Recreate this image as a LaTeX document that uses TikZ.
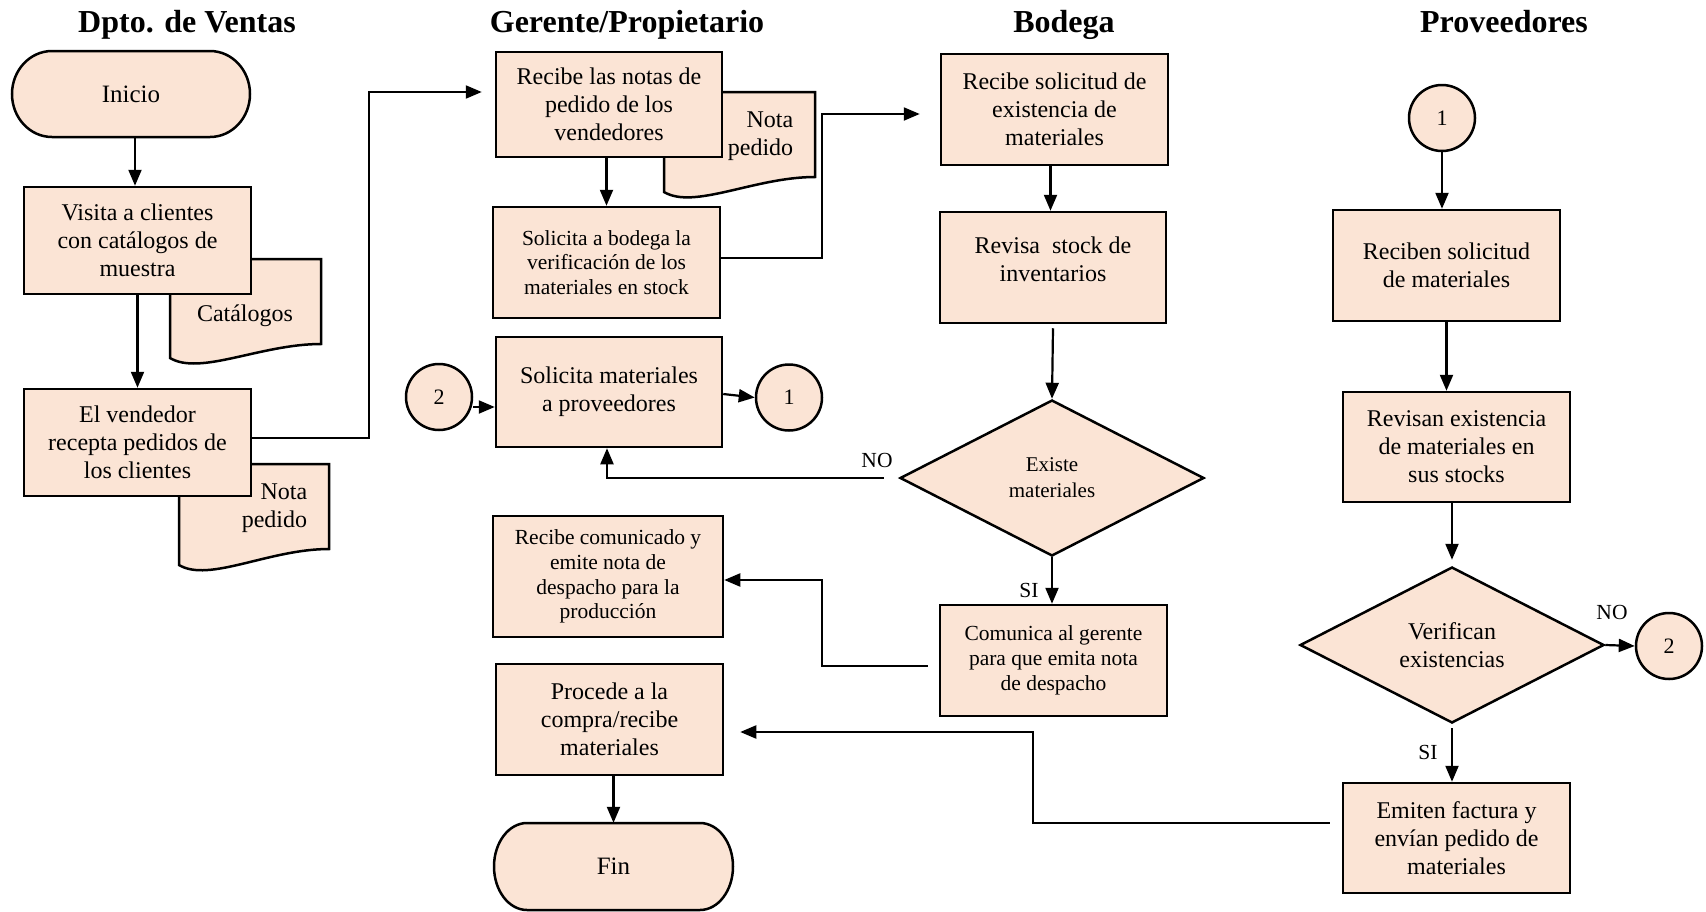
\documentclass[tikz,border=0pt]{standalone}
\usepackage{fontspec}
\setmainfont{Liberation Serif}
\usetikzlibrary{shapes.geometric,arrows.meta,calc}
\definecolor{peach}{HTML}{FBE4D5}

% document symbol: left x, right x, top y, bottom-left y, bottom-right y
\newcommand\docoutline[5]{%
  \draw[outline,fill=peach] (#1,#3) -- (#2,#3) -- (#2,#5)
    .. controls ({#1+0.6*(#2-#1)},#5) and ({#1+0.2*(#2-#1)},{#4+18}) .. (#1,#4) -- cycle;}

\begin{document}
\begin{tikzpicture}[x=1pt,y=-1pt,
  every node/.style={inner sep=0pt},
  outline/.style={draw=black,line width=2.5pt,line join=miter},
  box/.style={rectangle,outline,fill=peach,align=center,
    font=\fontsize{24}{28}\selectfont,minimum width=227pt,minimum height=111pt},
  sbox/.style={box,font=\fontsize{21.5}{24.8}\selectfont},
  decision/.style={diamond,outline,fill=peach,align=center,
    minimum width=304pt,minimum height=156pt},
  connector/.style={circle,outline,fill=peach,minimum size=66pt,
    font=\fontsize{22}{26}\selectfont},
  lane/.style={anchor=base,font=\fontsize{32}{36}\selectfont\bfseries},
  plain/.style={font=\fontsize{24}{28}\selectfont,align=center},
  tag/.style={font=\fontsize{21.5}{25}\selectfont},
  arr/.style={-{Triangle[length=16pt,width=13pt]},line width=2.2pt},
]
\useasboundingbox (0,0) rectangle (1706,911);

% lane headings
\node[lane] (hVentas) at (187,32.5) {Dpto. de Ventas};
\node[lane] (hGerente) at (627,32.5) {Gerente/Propietario};
\node[lane] (hBodega) at (1064,32.5) {Bodega};
\node[lane] (hProv) at (1504,32.5) {Proveedores};

% terminals
\draw[outline,fill=peach] (52,51) -- (210,51) arc[start angle=-90,end angle=90,x radius=40,y radius=43]
  -- (52,137) arc[start angle=90,end angle=270,x radius=40,y radius=43] -- cycle;
\node[plain,font=\fontsize{25}{28}\selectfont,minimum width=238pt,minimum height=86pt] (inicio) at (131,94) {Inicio};
\draw[outline,fill=peach] (527,823) -- (700,823) arc[start angle=-90,end angle=90,x radius=33,y radius=43.5]
  -- (527,910) arc[start angle=90,end angle=270,x radius=33,y radius=43.5] -- cycle;
\node[plain,font=\fontsize{25}{28}\selectfont,minimum width=239pt,minimum height=87pt] (fin) at (613.5,866.5) {Fin};

% documents (drawn below the process boxes)
\docoutline{170}{321}{259}{358}{344}
\node[plain] (catalogos) at (245,316) {Catálogos};
\docoutline{179}{329}{464}{565}{549}
\node[plain,align=right] (nota1) at (274.5,508.5) {Nota\\pedido};
\docoutline{664}{815}{92}{192}{177}
\node[plain,align=right] (nota2) at (760.5,136) {Nota\\pedido};

% Dpto. de Ventas
\node[box,minimum height=107pt] (visita) at (137.5,240.5) {Visita a clientes\\con catálogos de\\muestra};
\node[box,minimum height=107pt] (vendedor) at (137.5,442.5) {El vendedor\\recepta pedidos de\\los clientes};

% Gerente/Propietario
\node[box,minimum width=226pt,minimum height=105pt] (recibeNotas) at (609,104.5) {Recibe las notas de\\pedido de los\\vendedores};
\node[sbox] (solicitaBodega) at (606.5,262.5) {Solicita a bodega la\\verificación de los\\materiales en stock};
\node[box,minimum width=226pt,minimum height=110pt] (solicitaMat) at (609,392) {Solicita materiales\\a proveedores};
\node[connector] (c2L) at (439,397) {2};
\node[connector] (c1L) at (789,397.5) {1};
\node[sbox,minimum width=230pt,minimum height=121pt] (recibeCom) at (608,576.5) {Recibe comunicado y\\emite nota de\\despacho para la\\producción};
\node[box] (procede) at (609.5,719.5) {Procede a la\\compra/recibe\\materiales};

% Bodega
\node[box] (bod1) at (1054.5,109.5) {Recibe solicitud de\\existencia de\\materiales};
\node[box,minimum width=226pt] (bod2) at (1053,267.5) {};
\node[plain] (bod2text) at (1053,259) {Revisa\ \ stock de\\inventarios};
\node[decision,font=\fontsize{21}{26}\selectfont] (existe) at (1052,478) {Existe\\materiales};
\node[sbox] (comunica) at (1053.5,660.5) {Comunica al gerente\\para que emita nota\\de despacho};

% Proveedores
\node[connector] (c1R) at (1442,118) {1};
\node[box] (reciben) at (1446.5,265.5) {Reciben solicitud\\de materiales};
\node[box,minimum height=110pt] (revisan) at (1456.5,447) {Revisan existencia\\de materiales en\\sus stocks};
\node[decision,font=\fontsize{24}{28}\selectfont] (verifican) at (1452,645) {Verifican\\existencias};
\node[connector] (c2R) at (1669,646) {2};
\node[box,minimum height=110pt] (emiten) at (1456.5,838) {Emiten factura y\\envían pedido de\\materiales};

% decision labels
\node[tag] (noExiste) at (877,460) {NO};
\node[tag] (siExiste) at (1029,590) {SI};
\node[tag] (noVerif) at (1612,612) {NO};
\node[tag] (siVerif) at (1428,752) {SI};

% flow
\draw[arr] ([xshift=4pt]inicio.south) -- ([xshift=4pt]inicio.south |- visita.north);
\draw[arr] (visita.south) -- (vendedor.north);
\draw[arr] ($(vendedor.east)+(0,-4.5)$) -- ++(117,0) |- ($(recibeNotas.west)+(-13,-12.5)$);
\draw[arr] (solicitaBodega.north |- recibeNotas.south) -- (solicitaBodega.north);
\draw[arr] ($(solicitaBodega.east)+(0,-4.5)$) -- ++(101,0) |- ($(bod1.west)+(-20,4.5)$);
\draw[arr] ([xshift=-4pt]bod1.south) -- ([xshift=-4pt]bod1.south |- bod2.north);
\draw[arr] ($(bod2.south)+(0,4)$) -- (existe.north);
\draw[arr] ($(existe.west)+(-15,0)$) -| ([xshift=-2pt]solicitaMat.south);
\draw[arr] (existe.south) -- (existe.south |- comunica.north);
\draw[arr] ($(comunica.west)+(-11,5.5)$) -- ++(-106,0) |- ($(recibeCom.east)+(0,3.5)$);
\draw[arr] ($(emiten.west)+(-12,-15)$) -- ++(-297,0) |- ($(procede.east)+(16,12.5)$);
\draw[arr] (fin.north |- procede.south) -- (fin.north);
\draw[arr] (c2L.east |- {$(solicitaMat.west)+(0,15)$}) -- ($(solicitaMat.west)+(0,15)$);
\draw[arr] ($(solicitaMat.east)+(0,2)$) -- (c1L.west);
\draw[arr] (c1R.south) -- (c1R.south |- reciben.north);
\draw[arr] (reciben.south) -- (reciben.south |- revisan.north);
\draw[arr] (verifican.north |- revisan.south) -- ($(verifican.north)+(0,-6)$);
\draw[arr] (verifican.east) -- (c2R.west);
\draw[arr] ($(verifican.south)+(0,4)$) -- (verifican.south |- emiten.north);
\end{tikzpicture}
\end{document}
